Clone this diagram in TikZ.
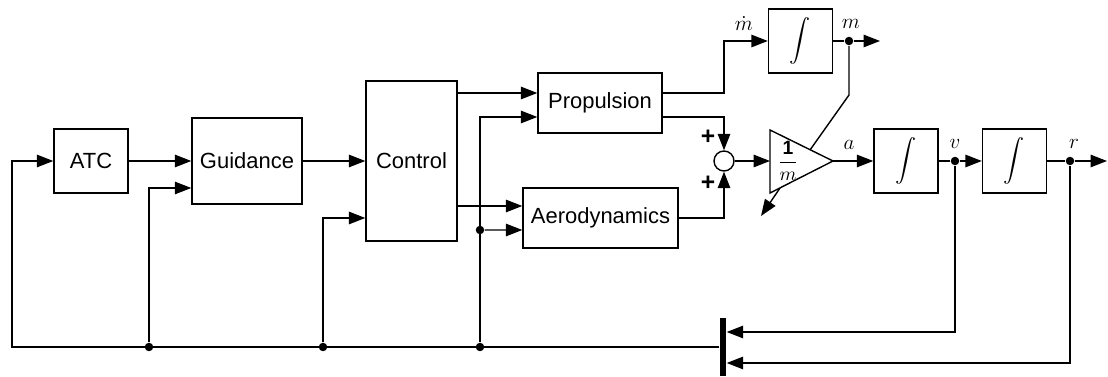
\documentclass[tikz,border=0pt]{standalone}
\usepackage{amsmath}
\usepackage{fontspec}
\setmainfont{Liberation Sans}
\usetikzlibrary{arrows.meta}

\begin{document}
\begin{tikzpicture}[
  x=0.02cm, y=-0.02cm, line width=0.8pt,
  box/.style={draw, fill=white, inner sep=0pt, font=\fontsize{12.5}{15}\selectfont},
  integ/.style={draw, minimum width=12.8mm, minimum height=12.8mm, inner sep=0pt,
                font=\fontsize{12.5}{15}\selectfont},
  soma/.style={draw, circle, minimum size=4mm, inner sep=0pt},
  ponto/.style={circle, fill, inner sep=0pt, minimum size=1.7mm},
  rot/.style={font=\fontsize{13}{15}\selectfont, inner sep=1pt},
  sinal/.style={font=\fontsize{14}{16}\selectfont\bfseries, inner sep=1pt},
  seta/.style={-{Triangle[length=3.3mm, width=2.5mm]}},
]
\useasboundingbox (0,0) rectangle (1108,377);

% ---- Blocos principais
\node[box, minimum width=14.8mm, minimum height=12.8mm] (atc) at (91,161) {ATC};
\node[box, minimum width=22mm, minimum height=17.2mm] (guid) at (247,161) {Guidance};
\node[box, minimum width=18.2mm, minimum height=32mm] (ctrl) at (411.5,161) {Control};
\node[box, minimum width=24.8mm, minimum height=12mm] (prop) at (600,103) {Propulsion};
\node[box, minimum width=31mm, minimum height=12mm] (aero) at (600.5,218) {Aerodynamics};

% ---- Integradores e somador
\node[integ] (intm) at (800.5,41) {$\displaystyle\int$};
\node[integ] (intv) at (906,161) {$\displaystyle\int$};
\node[integ] (intr) at (1014.5,161) {$\displaystyle\int$};
\node[soma] (soma) at (724,161) {};
\node[sinal] (mais1) at (708,137) {+};
\node[sinal] (mais2) at (708,183) {+};

% ---- Ganho 1/m
\coordinate (gin) at (770,161);
\coordinate (gtip) at (833,161);
\coordinate (gtop) at (810,150);
\coordinate (gbot) at (780,188);
\coordinate (gout) at (761,216);
\draw (770,130) -- (gtip) -- (770,193) -- cycle;
\node[font=\fontsize{11}{13}\selectfont] (gain) at (788,161) {$\dfrac{\mathbf{1}}{m}$};

% ---- Pontos de derivacao
\node[ponto] (pm) at (849,41) {};
\node[ponto] (pv) at (955,161) {};
\node[ponto] (pr) at (1070,161) {};
\node[ponto] (b1) at (149,347) {};
\node[ponto] (b2) at (323,347) {};
\node[ponto] (b3) at (480,347) {};
\node[ponto] (ja) at (480,230) {};
\node[fill, minimum width=1.2mm, minimum height=11.6mm, inner sep=0pt] (barra) at (723,347) {};
\coordinate (canto) at (12,347);
\coordinate (saim) at (880,41);
\coordinate (mdobra) at (849,95);
\coordinate (saida) at (1107,161);

% ---- Rotulos
\node[rot] (lmdot) at (744,24) {$\dot{m}$};
\node[rot] (lm) at (851,24) {$m$};
\node[rot] (la) at (849,145) {$a$};
\node[rot] (lv) at (955,144) {$v$};
\node[rot] (lr) at (1074,144) {$r$};

% ---- Setas
\draw[seta] (barra.west) -- (canto) |- (atc);
\draw[seta] (atc) -- (guid);
\draw[seta] (b1) |- ([yshift=-5.4mm]guid.west);
\draw[seta] (guid) -- (ctrl);
\draw[seta] (b2) |- ([yshift=-11.4mm]ctrl.west);
\draw[seta] ([yshift=2mm]prop.west -| ctrl.east) -- ([yshift=2mm]prop.west);
\draw[seta] (b3) |- ([yshift=-2.8mm]prop.west);
\draw[seta] ([yshift=2.4mm]aero.west -| ctrl.east) -- ([yshift=2.4mm]aero.west);
\draw[seta] (ja) -- ([yshift=-2.4mm]aero.west);
\draw[seta] ([yshift=2mm]prop.east) -| (soma |- intm) -- (intm);
\draw[seta] ([yshift=-2.8mm]prop.east) -| (soma);
\draw[seta] (aero) -| (soma);
\draw[seta] (soma) -- (gin);
\draw (intm) -- (pm);
\draw[seta] (pm) -- (saim);
\draw (pm) -- (mdobra) -- (gtop);
\draw[seta] (gbot) -- (gout);
\draw[seta] (gtip) -- (intv);
\draw (intv) -- (pv);
\draw[seta] (pv) -- (intr);
\draw (intr) -- (pr);
\draw[seta] (pr) -- (saida);
\draw[seta] (pv) |- ([yshift=3mm]barra.east);
\draw[seta] (pr) |- ([yshift=-3.2mm]barra.east);
\end{tikzpicture}
\end{document}
